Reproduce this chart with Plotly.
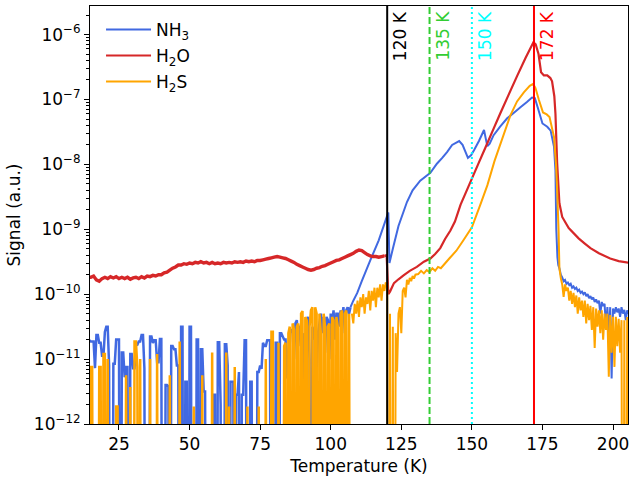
import numpy as np
import plotly.graph_objects as go

B = -20.0  # log10 level far below the visible range (signal at / below zero)

# ---------------- NH3 ----------------
# noisy part, T = 14.5 ... 107.0 K every 0.5 K (log10 of signal)
nh3_low = [
    -10.71, -10.73, -10.73, -10.73, -11.14, -10.63, -10.63, -10.75, -10.75, -10.95,
    -10.95, -10.58, -10.5, -10.5, -11.1, B, B, -11.07, -11.07, -10.7,
    -10.7, -10.7, B, -10.9, -10.9, -11.28, -11.12, -11.12, B, -10.92,
    -10.92, -11.14, -11.14, -10.78, -10.78, -10.73, -10.73, -10.63, -10.63, -11.14,
    B, B, B, -10.65, -10.65, -10.75, -10.71, -10.71, -11.05, -11.05,
    -10.69, -10.69, B, B, -11.4, -11.4, -11.42, B, -10.8, -10.8,
    -10.85, -10.85, -11.1, -11.1, B, -10.5, -10.5, B, -11.35, -11.35,
    B, -10.5, -10.5, B, B, B, -10.7, -10.7, B, -10.85,
    -10.85, -11.5, -11.5, B, B, B, B, B, -11.55, -11.55,
    B, -10.74, -10.74, -11.7, B, B, -10.77, -10.77, -11.1, B,
    -11.35, -11.35, -11.35, B, -11.55, -11.55, -11.2, B, -11.55, -11.55,
    -10.71, -10.71, B, B, -11.35, -11.35, B, B, B, -11.2,
    -11.2, -11.1, -11.15, -10.75, -10.8, -10.8, -10.71, -10.71, -10.71, B,
    B, B, -10.75, -10.75, B, -10.6, -10.6, -10.65, -10.7, -10.7,
    -11.3, -10.9, -10.55, -10.55, -10.6, -11.0, -10.45, -10.4, -10.8, -10.5,
    -10.5, -11.2, -10.6, B, -10.4, -10.35, -11.0, B, -10.5, -10.7,
    -10.5, -11.3, -10.6, -10.45, -10.3, -10.6, -10.35, -10.9, -10.35, -10.4,
    -11.0, -10.3, -10.45, -10.25, -10.7, -10.3, -10.3, -10.5, -10.25, -10.35,
    -10.2, -10.6, -10.25, -10.2, -10.3, -10.2,
]
nh3_mid_T = [107, 108, 109.4, 111, 114, 117, 120.4, 120.8, 122, 124, 127,
             129, 131.7, 135.3, 137.6, 139.5, 141.2, 143, 145.5, 146.7, 148.6,
             149.7, 150.8, 152.5, 154.3, 154.9, 155.5, 156.3, 157.7, 160, 162.5,
             165, 167.2, 169.5, 171.3, 172.3, 173.3, 175, 176.7, 177.9, 179.1,
             179.6, 179.9, 180.3, 180.6]
nh3_mid = [-10.2, -10.1, -9.98, -9.8, -9.48, -9.17, -8.74, -9.52, -9.3, -8.95, -8.58,
           -8.4, -8.25, -8.13, -7.99, -7.9, -7.81, -7.7, -7.64, -7.7, -7.9,
           -7.86, -7.78, -7.64, -7.47, -7.6, -7.72, -7.68, -7.55, -7.42, -7.29,
           -7.2, -7.12, -7.04, -6.97, -6.98, -7.12, -7.37, -7.42, -7.48, -7.73,
           -8.09, -9.0, -9.43, -9.55]
# tail, T = 181 ... 206 K every 0.5 K
nh3_tail = [
    -9.6, -9.7, -9.74, -9.8, -9.78, -9.84, -9.82, -9.86, -9.84, -9.9,
    -9.88, -9.92, -9.9, -9.95, -9.93, -9.98, -9.96, -10.0, -9.97, -10.03,
    -10.0, -10.06, -10.03, -10.08, -10.05, -10.12, -10.08, -10.14, -10.1, -10.3,
    -10.12, -10.18, -10.15, -10.5, -10.2, -10.66, -10.2, -11.3, -10.22, -10.3,
    -10.2, -10.28, -10.22, -10.35, -10.2, -10.3, -10.24, -10.4, -10.25, -10.3,
    -10.25,
]

# ---------------- H2O ----------------
# T = 14 ... 119 K every 1 K
h2o_low = [
    -9.74,
    -9.74, -9.72, -9.78, -9.80, -9.76, -9.74, -9.76, -9.73, -9.75, -9.73,
    -9.76, -9.74, -9.76, -9.74, -9.77, -9.75, -9.74, -9.76, -9.73, -9.75,
    -9.72, -9.73, -9.71, -9.72, -9.70, -9.70, -9.67, -9.66, -9.63, -9.60,
    -9.58, -9.55, -9.55, -9.53, -9.54, -9.52, -9.53, -9.51, -9.52, -9.50,
    -9.52, -9.51, -9.53, -9.51, -9.53, -9.52, -9.53, -9.51, -9.52, -9.51,
    -9.52, -9.50, -9.51, -9.50, -9.51, -9.49, -9.50, -9.49, -9.50, -9.48,
    -9.48, -9.47, -9.46, -9.45, -9.44, -9.43, -9.42, -9.43, -9.44, -9.45,
    -9.47, -9.49, -9.51, -9.54, -9.56, -9.58, -9.60, -9.62, -9.63, -9.62,
    -9.60, -9.59, -9.57, -9.56, -9.54, -9.52, -9.50, -9.48, -9.47, -9.45,
    -9.43, -9.41, -9.39, -9.37, -9.34, -9.32, -9.33, -9.36, -9.39, -9.41,
    -9.42, -9.42, -9.43, -9.42, -9.41,
]
h2o_hi_T = [119, 119.8, 120.4, 121, 122.4, 124, 125.8, 128, 130.5, 133, 135.3,
            137, 138.8, 140.5, 142.4, 144, 146, 148, 150, 152.5, 155,
            157.7, 160, 163, 166, 169, 171.8, 172.6, 173.6, 174.5, 175.5,
            176.7, 177.8, 178.4, 179.2, 179.6, 180.2, 181, 182, 184.3, 187.8,
            190, 192, 195, 199, 202, 206]
h2o_hi = [-9.41, -9.40, -10.0, -9.96, -9.83, -9.77, -9.71, -9.64, -9.58, -9.5, -9.45,
          -9.38, -9.29, -9.15, -9.02, -8.88, -8.62, -8.42, -8.22, -7.97, -7.72,
          -7.45, -7.22, -6.93, -6.64, -6.36, -6.12, -6.15, -6.3, -6.58, -6.63,
          -6.63, -6.67, -6.72, -6.95, -7.22, -7.98, -8.6, -8.81, -8.98, -9.14,
          -9.22, -9.29, -9.37, -9.45, -9.49, -9.52]

# ---------------- H2S ----------------
# T = 14.5 ... 107.0 K every 0.5 K
h2s_low = [
    B, -11.12, -11.12, B, B, B, B, -11.12, -11.12, B,
    -10.92, -10.92, B, -11.0, B, B, B, B, B, -11.73,
    -11.73, B, B, B, B, B, -11.25, B, B, -11.43,
    B, B, -10.73, -10.73, -11.12, B, -11.0, B, B, B,
    B, B, B, -11.0, B, B, B, B, -10.92, B,
    B, B, B, B, B, B, B, -11.25, B, B,
    B, B, B, B, -10.73, B, B, B, B, B,
    B, B, B, B, -11.73, B, B, B, B, B,
    -11.25, B, B, B, B, B, B, -10.9, B, B,
    B, B, B, B, B, B, B, -10.9, B, -11.73,
    B, B, B, -11.12, B, B, B, B, B, B,
    B, B, -11.73, B, B, B, B, B, B, B,
    -11.73, B, B, B, B, -11.0, B, B, B, -10.58,
    -10.58, B, B, B, -10.75, B, B, B, -10.8, -10.75,
    B, -10.6, -10.5, B, -10.45, -10.55, B, -10.5, -10.45, B,
    -10.3, -10.26, B, -10.35, -10.4, B, -10.5, -10.25, -10.2, B,
    -10.2, -10.3, B, -10.3, -10.6, B, -10.3, -10.5, B, -10.5,
    -10.45, B, -10.35, -10.4, B, -10.35, -10.5, B, -10.3, -10.25,
    B, -10.3, -10.25, B, -10.3, B,
]
# T = 107.5 ... 130 K every 0.5 K
h2s_mid = [
    -10.3, -10.45, -10.15, -10.3, -10.1, -10.35, -10.05, -10.2, -10.0, -10.3,
    -10.05, -10.15, -9.95, -10.25, -9.95, -10.1, -9.9, -10.2, -9.9, -10.05,
    -9.85, -10.1, -9.85, -9.95, -9.82, -9.85, B, -10.3, B, -10.5,
    B, -10.6, -11.2, -10.3, -10.2, -10.6, -9.95, -9.9, -10.05, -9.78,
    -9.85, -9.75, -9.8, -9.72, -9.76, -9.7,
]
h2s_hi_T = [131, 132, 133, 134, 135, 136, 137, 138, 139, 140,
            142, 144.5, 147, 150, 153, 155.5, 158, 160, 163.6, 166,
            168.4, 170.5, 171.7, 172.5, 173.7, 175.2, 176.5, 177.5, 179.1, 179.8,
            180.2, 180.7]
h2s_hi = [-9.69, -9.64, -9.68, -9.63, -9.66, -9.6, -9.64, -9.58, -9.6, -9.55,
          -9.45, -9.33, -9.17, -8.97, -8.62, -8.32, -7.95, -7.7, -7.25, -7.03,
          -6.89, -6.79, -6.76, -6.82, -7.0, -7.2, -7.23, -7.27, -7.58, -8.0,
          -8.4, -9.0]
# T = 181 ... 206 K every 0.5 K
h2s_tail = [
    -9.6, -9.75, -9.85, -10.04, -9.85, -9.95, -9.9, -10.1, -9.95, -10.15,
    -9.98, -10.2, -10.02, -10.3, -10.05, -10.25, -10.1, -10.35, -10.1, -10.45,
    -10.15, -10.4, -10.18, -10.55, -10.2, -10.83, -10.22, -10.5, -10.25, -10.6,
    -10.25, -10.7, -10.3, -10.55, -10.3, -11.27, -10.32, -10.9, -10.35, -11.12,
    -10.35, -10.8, -10.38, -10.9, -10.4, B, -10.4, B, -10.35, B,
    -10.3,
]

# reference temperatures (vertical markers)
marks_T = [120, 135, 150, 172]
marks_label = ["120 K", "135 K", "150 K", "172 K"]
marks_color = ["black", "limegreen", "cyan", "red"]
marks_dash = ["solid", "7px,3px", "2px,3px", "solid"]

xticks = [25, 50, 75, 100, 125, 150, 175, 200]
ytick_exp = [-12, -11, -10, -9, -8, -7, -6]

# sampling grids
T_low = np.arange(14.5, 107.01, 0.5)
T_tail = np.arange(181.0, 206.01, 0.5)
T_h2s_mid = np.arange(107.5, 130.01, 0.5)
T_h2o_low = np.arange(14.0, 119.01, 1.0)

NH3_C, H2O_C, H2S_C = "royalblue", "#d62728", "orange"
FONT = "DejaVu Sans"


def pw(v):
    return 10.0 ** np.asarray(v, dtype=float)


fig = go.Figure()
# NH3: noisy low-T part (no legend) + desorption part (legend)
fig.add_trace(go.Scatter(x=T_low, y=pw(nh3_low), mode="lines", legendgroup="nh3",
                         showlegend=False, hoverinfo="skip",
                         line=dict(color=NH3_C, width=2.5, simplify=False)))
fig.add_trace(go.Scatter(x=np.concatenate([nh3_mid_T, T_tail]),
                         y=pw(nh3_mid + nh3_tail), mode="lines", legendgroup="nh3",
                         name="NH<sub>3</sub>",
                         line=dict(color=NH3_C, width=2, simplify=False)))
# H2O
fig.add_trace(go.Scatter(x=T_h2o_low, y=pw(h2o_low), mode="lines", legendgroup="h2o",
                         showlegend=False, hoverinfo="skip",
                         line=dict(color=H2O_C, width=3.4, simplify=False)))
fig.add_trace(go.Scatter(x=h2o_hi_T, y=pw(h2o_hi), mode="lines", legendgroup="h2o",
                         name="H<sub>2</sub>O",
                         line=dict(color=H2O_C, width=2.2, simplify=False)))
# H2S
fig.add_trace(go.Scatter(x=T_low, y=pw(h2s_low), mode="lines", legendgroup="h2s",
                         showlegend=False, hoverinfo="skip",
                         line=dict(color=H2S_C, width=2.5, simplify=False)))
fig.add_trace(go.Scatter(x=np.concatenate([T_h2s_mid, h2s_hi_T, T_tail]),
                         y=pw(h2s_mid + h2s_hi + h2s_tail), mode="lines",
                         legendgroup="h2s", name="H<sub>2</sub>S",
                         line=dict(color=H2S_C, width=2, simplify=False)))

for t, lab, col, dash in zip(marks_T, marks_label, marks_color, marks_dash):
    fig.add_shape(type="line", xref="x", yref="paper", x0=t, x1=t, y0=0, y1=1,
                  line=dict(color=col, width=2, dash=dash), layer="above")
    fig.add_annotation(x=t, y=1, xref="x", yref="paper", text=lab, showarrow=False,
                       textangle=-90, xanchor="center", yanchor="top",
                       xshift=13, yshift=-3,
                       font=dict(family=FONT, size=17, color=col))

minor_vals = [m * 10.0 ** e for e in range(-12, -5) for m in range(2, 10)
              if np.log10(m) + e < -5.56]

fig.update_layout(
    width=631, height=481,
    margin=dict(l=90, r=3, t=6, b=57),
    paper_bgcolor="white", plot_bgcolor="white",
    font=dict(family=FONT, size=17, color="black"),
    showlegend=True,
    legend=dict(x=0.0205, y=0.986, xanchor="left", yanchor="top",
                bgcolor="rgba(0,0,0,0)", borderwidth=0, itemwidth=45,
                tracegroupgap=1,
                font=dict(family=FONT, size=17, color="black")),
    xaxis=dict(range=[14.73, 205.3], tickmode="array", tickvals=xticks,
               ticks="outside", ticklen=5, tickwidth=1.1, tickcolor="black",
               showline=True, mirror=True, linecolor="black", linewidth=1.1,
               showgrid=False, zeroline=False,
               tickfont=dict(family=FONT, size=17, color="black"),
               title=dict(text="Temperature (K)", standoff=6,
                          font=dict(family=FONT, size=17, color="black"))),
    yaxis=dict(type="log", range=[-12, -5.56], tickmode="array",
               tickvals=[10.0 ** e for e in ytick_exp],
               ticktext=["10<sup>\u2212%d</sup>" % (-e) for e in ytick_exp],
               ticks="outside", ticklen=5, tickwidth=1.1, tickcolor="black",
               minor=dict(tickmode="array", tickvals=minor_vals, ticks="outside",
                          ticklen=2.8, tickwidth=0.8, tickcolor="black"),
               showline=True, mirror=True, linecolor="black", linewidth=1.1,
               showgrid=False, zeroline=False,
               tickfont=dict(family=FONT, size=17, color="black"),
               title=dict(text="Signal (a.u.)", standoff=8,
                          font=dict(family=FONT, size=17, color="black"))),
)

fig.write_html("out.html")
